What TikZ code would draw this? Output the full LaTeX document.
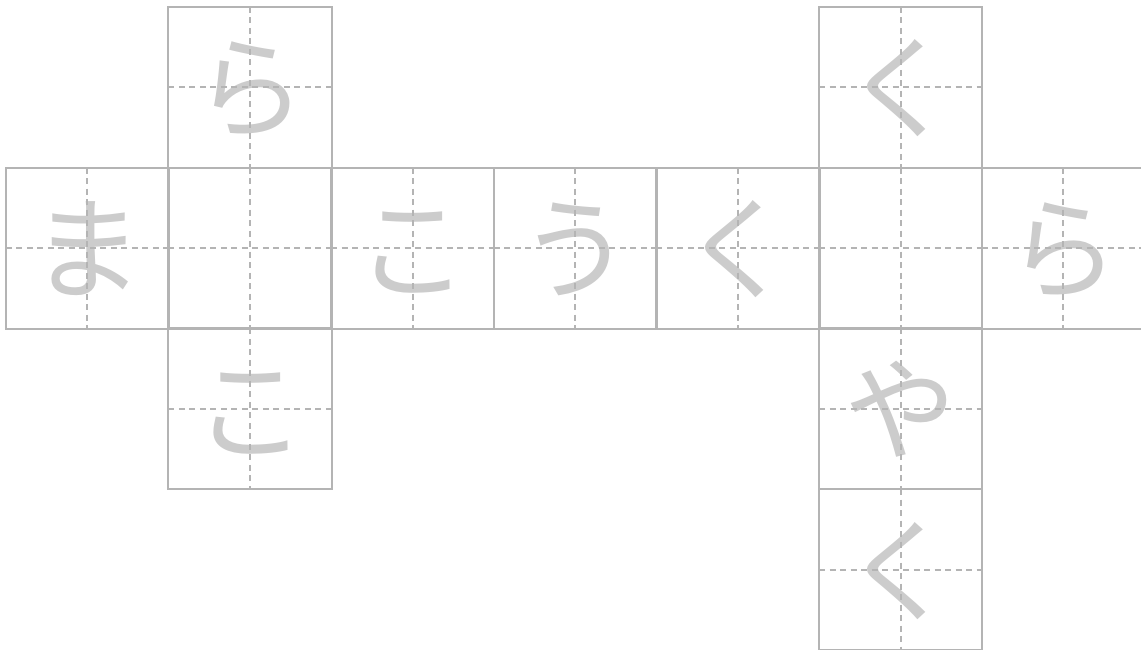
\documentclass[tikz,border=0pt]{standalone}
\usepackage{fontspec}
\newfontfamily\jp{Noto Sans CJK JP}
\definecolor{gridc}{HTML}{B4B4B4}
\definecolor{charc}{HTML}{CCCCCC}
\begin{document}
\begin{tikzpicture}[x=1pt,y=-1pt,
 cell/.style={rectangle, inner sep=0pt, minimum width=162.67pt, minimum height=160.75pt,
   text=charc, font=\jp\fontsize{112}{112}\selectfont, text height=98.6pt, text depth=13.4pt},
 gridline/.style={draw=gridc, line width=2pt},
 midline/.style={draw=gridc, line width=1.8pt, dash pattern=on 6pt off 4.5pt}]
\useasboundingbox (0,0) rectangle (1141,650);
\foreach \c/\r/\t in {1/0/ら,5/0/く,0/1/ま,1/1/{},2/1/こ,3/1/う,4/1/く,5/1/{},6/1/ら,1/2/こ,5/2/や,5/3/く}{
  \node[cell] (r\r c\c) at ({6+162.67*(\c+0.5)},{7+160.75*(\r+0.5)}) {\t};
}
\foreach \c/\r in {1/0,5/0,0/1,1/1,2/1,3/1,4/1,5/1,6/1,1/2,5/2,5/3}{
  \draw[midline] (r\r c\c.north) -- (r\r c\c.south);
  \draw[midline] (r\r c\c.west) -- (r\r c\c.east);
}
\foreach \c/\r in {1/0,5/0,0/1,1/1,2/1,3/1,4/1,5/1,6/1,1/2,5/2,5/3}{
  \draw[gridline] (r\r c\c.south west) rectangle (r\r c\c.north east);
}
\end{tikzpicture}
\end{document}
